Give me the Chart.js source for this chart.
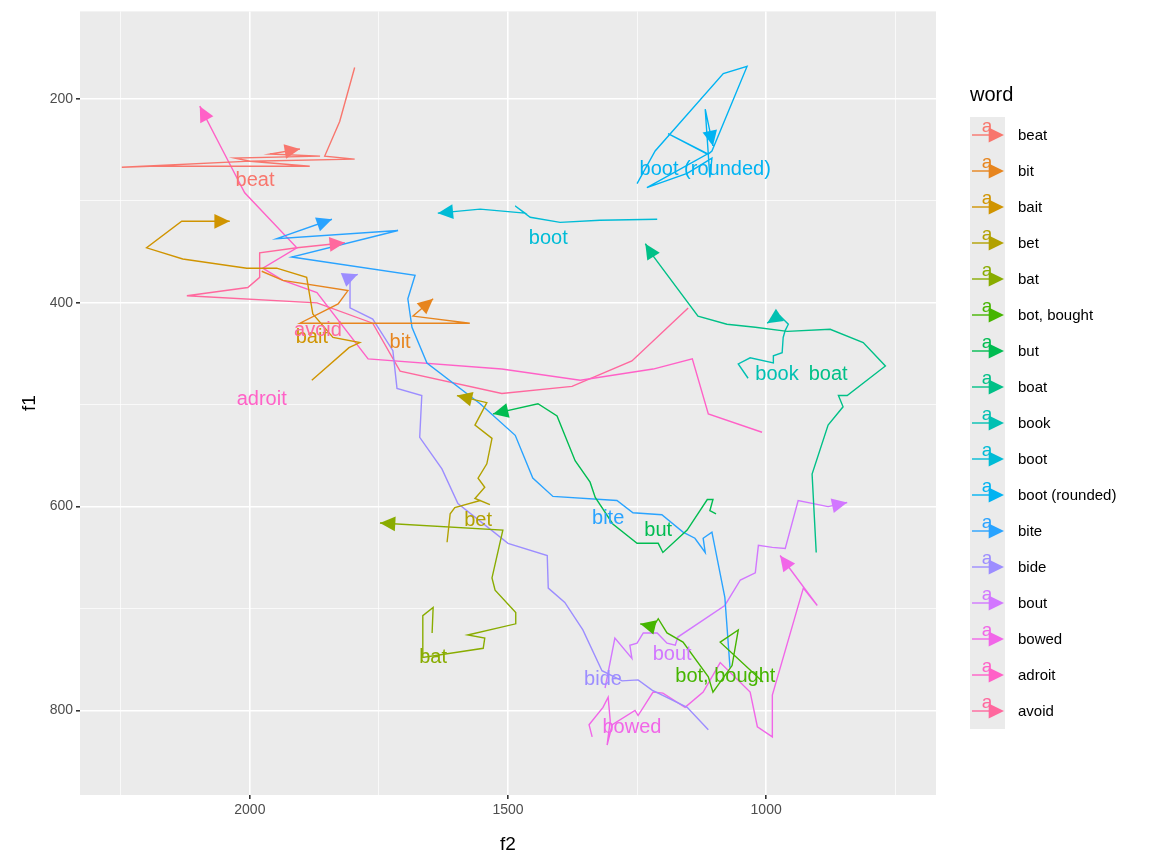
<!DOCTYPE html>
<html>
<head>
<meta charset="utf-8">
<script src="https://cdn.jsdelivr.net/npm/chart.js@4"></script>
<style>
  body { margin: 0; background: #fff; }
  #wrap { width: 1159px; height: 865px; }
</style>
</head>
<body>
<div id="wrap"><canvas id="vowelChart"></canvas></div>
<script>
const words = ['beat', 'bit', 'bait', 'bet', 'bat', 'bot, bought', 'but', 'boat', 'book', 'boot',
    'boot (rounded)', 'bite', 'bide', 'bout', 'bowed', 'adroit', 'avoid'];
const colors = ['#F8766D', '#E7851E', '#D09400', '#B2A100', '#89AC00', '#45B500', '#00BC51', '#00C087',
    '#00C0B2', '#00BCD6', '#00B3F2', '#29A3FF', '#9C8DFF', '#D277FF', '#F166E8', '#FF61C7', '#FF689E'];

// trajectories, f2 and f1 in Hz
const beatF2 = [1797, 1826, 1855, 1797, 2000, 1884, 2194, 2248, 2000, 2029, 1864, 1961, 1903];
const beatF1 = [169, 222, 256, 259, 261, 266, 266, 267, 261, 258, 256, 254, 249];
const bitF2 = [1977, 1936, 1810, 1829, 1903, 1748, 1574, 1684, 1645];
const bitF1 = [369, 378, 388, 401, 420, 420, 420, 413, 396];
const baitF2 = [1880, 1808, 1787, 1839, 1878, 1890, 1948, 2006, 2130, 2200, 2132, 2039];
const baitF1 = [476, 444, 439, 434, 411, 375, 366, 366, 357, 346, 320, 320];
const betF2 = [1618, 1612, 1603, 1554, 1535, 1564, 1545, 1558, 1541, 1531, 1564, 1541, 1599];
const betF1 = [635, 607, 601, 594, 598, 592, 581, 572, 558, 533, 520, 498, 491];
const batF2 = [1647, 1645, 1665, 1665, 1548, 1545, 1578, 1485, 1485, 1525, 1531, 1510, 1748];
const batF1 = [724, 699, 707, 748, 739, 729, 726, 715, 704, 682, 670, 623, 616];
const botF2 = [1006, 1089, 1054, 1066, 1103, 1112, 1161, 1192, 1209, 1219, 1244];
const botF1 = [772, 733, 721, 756, 782, 767, 733, 724, 710, 718, 715];
const butF2 = [1097, 1109, 1103, 1114, 1153, 1200, 1209, 1250, 1297, 1331, 1341, 1370, 1405, 1442, 1529];
const butF1 = [607, 604, 593, 593, 623, 645, 636, 636, 617, 591, 576, 555, 511, 499, 509];
const boatF2 = [903, 911, 880, 851, 860, 843, 769, 812, 876, 959, 1021, 1076, 1132, 1219, 1234];
const boatF1 = [645, 568, 520, 502, 491, 491, 462, 439, 426, 428, 424, 421, 413, 354, 342];
const bookF2 = [1035, 1054, 1031, 986, 986, 969, 967, 963, 957, 973, 986, 998];
const bookF1 = [474, 460, 454, 459, 452, 449, 434, 427, 421, 413, 416, 420];
const bootF2 = [1211, 1322, 1399, 1457, 1486, 1467, 1554, 1636];
const bootF1 = [318, 319, 321, 316, 305, 312, 308, 312];
const bootRF2 = [1250, 1215, 1083, 1037, 1105, 1112, 1190, 1114, 1231, 1153, 1105, 1109, 1118, 1103];
const bootRF1 = [283, 251, 175, 168, 251, 254, 234, 254, 287, 273, 258, 277, 210, 246];
const biteF2 = [1070, 1080, 1105, 1122, 1118, 1138, 1161, 1202, 1258, 1289, 1413, 1452, 1486, 1554, 1657,
    1686, 1694, 1680, 1919, 1713, 1948, 1841];
const biteF1 = [758, 689, 625, 631, 645, 631, 625, 608, 606, 594, 590, 572, 530, 499, 459, 424, 396, 373,
    355, 329, 337, 318];
const bideF2 = [1112, 1153, 1221, 1248, 1279, 1318, 1355, 1390, 1422, 1424, 1500, 1597, 1628, 1671, 1667,
    1715, 1723, 1762, 1806, 1806, 1791];
const bideF1 = [819, 797, 780, 770, 771, 761, 721, 694, 680, 648, 636, 597, 563, 532, 491, 484, 447, 416,
    405, 375, 372];
const boutF2 = [1312, 1293, 1260, 1264, 1250, 1238, 1211, 1192, 1176, 1171, 1080, 1050, 1021, 1015, 988,
    963, 938, 880, 843];
const boutF1 = [778, 729, 749, 736, 734, 724, 724, 734, 736, 728, 697, 672, 665, 638, 640, 641, 594, 600, 596];
const bowedF2 = [1337, 1343, 1316, 1306, 1302, 1308, 1298, 1254, 1248, 1219, 1200, 1157, 1122, 1089, 1031,
    1017, 988, 988, 928, 901, 973];
const bowedF1 = [826, 814, 797, 787, 810, 834, 814, 800, 805, 782, 783, 797, 782, 753, 782, 816, 826, 785,
    680, 697, 648];
const adroitF2 = [1008, 1112, 1143, 1219, 1360, 1512, 1771, 1870, 1936, 1975, 1909, 2010, 2052, 2097];
const adroitF1 = [527, 509, 455, 465, 476, 465, 455, 390, 378, 366, 346, 292, 251, 207];
const avoidF2 = [1151, 1260, 1376, 1512, 1709, 1762, 1870, 2122, 2004, 1981, 1981, 1909, 1816];
const avoidF1 = [405, 457, 482, 489, 467, 420, 400, 393, 385, 375, 351, 346, 341];

// text label positions
const labelF2 = [1990, 1709, 1880, 1558, 1645, 1079, 1209, 880, 979, 1422, 1118, 1306, 1316, 1182, 1260, 1977, 1868];
const labelF1 = [280, 439, 434, 614, 748, 767, 623, 470, 470, 337, 269, 612, 770, 745, 817, 495, 427];

const xTicks = [750, 1000, 1250, 1500, 1750, 2000, 2250];
const yTicks = [200, 300, 400, 500, 600, 700, 800];

const allF2 = [beatF2, bitF2, baitF2, betF2, batF2, botF2, butF2, boatF2, bookF2, bootF2, bootRF2,
    biteF2, bideF2, boutF2, bowedF2, adroitF2, avoidF2];
const allF1 = [beatF1, bitF1, baitF1, betF1, batF1, botF1, butF1, boatF1, bookF1, bootF1, bootRF1,
    biteF1, bideF1, boutF1, bowedF1, adroitF1, avoidF1];

const FONT = '"Liberation Sans", Arial, sans-serif';

const datasets = words.map((w, i) => ({
    label: w,
    data: allF2[i].map((x, j) => ({ x: x, y: allF1[i][j] })),
    borderColor: colors[i],
    backgroundColor: colors[i],
    borderWidth: 1.4,
    showLine: true,
    pointRadius: 0,
    tension: 0
}));

function drawArrow(ctx, x0, y0, x1, y1, color) {
    const ang = Math.atan2(y1 - y0, x1 - x0);
    const len = 17, spread = Math.PI / 7;
    ctx.fillStyle = color;
    ctx.beginPath();
    ctx.moveTo(x1, y1);
    ctx.lineTo(x1 - len * Math.cos(ang - spread), y1 - len * Math.sin(ang - spread));
    ctx.lineTo(x1 - len * Math.cos(ang + spread), y1 - len * Math.sin(ang + spread));
    ctx.closePath();
    ctx.fill();
}

const panelBg = {
    id: 'panelBg',
    beforeDraw(chart) {
        const { ctx, chartArea: a } = chart;
        ctx.save();
        ctx.fillStyle = '#EBEBEB';
        ctx.fillRect(a.left, a.top, a.right - a.left, a.bottom - a.top);
        ctx.restore();
    }
};

const arrowsAndLabels = {
    id: 'arrowsAndLabels',
    afterDatasetsDraw(chart) {
        const { ctx, scales: { x, y } } = chart;
        ctx.save();
        words.forEach((w, i) => {
            const xs = allF2[i], ys = allF1[i], n = xs.length;
            drawArrow(ctx, x.getPixelForValue(xs[n - 2]), y.getPixelForValue(ys[n - 2]),
                x.getPixelForValue(xs[n - 1]), y.getPixelForValue(ys[n - 1]), colors[i]);
        });
        ctx.font = '20px ' + FONT;
        ctx.textAlign = 'center';
        ctx.textBaseline = 'middle';
        words.forEach((w, i) => {
            ctx.fillStyle = colors[i];
            ctx.fillText(w, x.getPixelForValue(labelF2[i]), y.getPixelForValue(labelF1[i]));
        });
        ctx.restore();
    },
    afterDraw(chart) {
        const ctx = chart.ctx;
        ctx.save();
        ctx.fillStyle = '#000';
        ctx.font = '20px ' + FONT;
        ctx.textBaseline = 'middle';
        ctx.fillText('word', 970, 95);
        const x0 = 970, top = 117, h = 36;
        ctx.fillStyle = '#EBEBEB';
        ctx.fillRect(x0, top, 35, h * words.length);
        words.forEach((w, i) => {
            const cy = top + h * i + h / 2;
            ctx.strokeStyle = colors[i];
            ctx.lineWidth = 1.4;
            ctx.beginPath();
            ctx.moveTo(x0 + 2, cy);
            ctx.lineTo(x0 + 32, cy);
            ctx.stroke();
            drawArrow(ctx, x0 + 2, cy, x0 + 34, cy, colors[i]);
            ctx.fillStyle = colors[i];
            ctx.font = '19px ' + FONT;
            ctx.textAlign = 'center';
            ctx.fillText('a', x0 + 17, cy - 8);
            ctx.fillStyle = '#000';
            ctx.font = '15px ' + FONT;
            ctx.textAlign = 'left';
            ctx.fillText(w, 1018, cy + 1);
        });
        ctx.restore();
    }
};

new Chart(document.getElementById('vowelChart').getContext('2d'), {
    type: 'scatter',
    data: { datasets: datasets },
    plugins: [panelBg, arrowsAndLabels],
    options: {
        responsive: true,
        maintainAspectRatio: false,
        animation: false,
        layout: { padding: { top: 10, right: 223, left: 0, bottom: 0 } },
        plugins: { legend: { display: false }, tooltip: { enabled: false } },
        scales: {
            x: {
                type: 'linear',
                reverse: true,
                min: 671,
                max: 2329,
                afterBuildTicks: s => { s.ticks = xTicks.map(v => ({ value: v })); },
                afterFit: s => { s.height = 70; },
                border: { display: false },
                grid: {
                    color: '#FFFFFF',
                    lineWidth: c => (c.tick && c.tick.value % 500 === 0 ? 1.6 : 0.7),
                    tickLength: 4,
                    tickColor: c => (c.tick && c.tick.value % 500 === 0 ? '#333' : 'rgba(0,0,0,0)')
                },
                ticks: {
                    color: '#4D4D4D',
                    font: { family: FONT, size: 14 },
                    maxRotation: 0,
                    autoSkip: false,
                    callback: v => (v % 500 === 0 ? v : '')
                },
                title: { display: true, text: 'f2', color: '#000', font: { family: FONT, size: 19 },
                    padding: { top: 0, bottom: 9 } }
            },
            y: {
                type: 'linear',
                reverse: true,
                min: 114,
                max: 883,
                afterBuildTicks: s => { s.ticks = yTicks.map(v => ({ value: v })); },
                afterFit: s => { s.width = 80; },
                border: { display: false },
                grid: {
                    color: '#FFFFFF',
                    lineWidth: c => (c.tick && c.tick.value % 200 === 0 ? 1.6 : 0.7),
                    tickLength: 4,
                    tickColor: c => (c.tick && c.tick.value % 200 === 0 ? '#333' : 'rgba(0,0,0,0)')
                },
                ticks: {
                    color: '#4D4D4D',
                    font: { family: FONT, size: 14 },
                    autoSkip: false,
                    callback: v => (v % 200 === 0 ? v : '')
                },
                title: { display: true, text: 'f1', color: '#000', font: { family: FONT, size: 19 },
                    padding: { top: 18, bottom: 0 } }
            }
        }
    }
});
</script>
</body>
</html>
